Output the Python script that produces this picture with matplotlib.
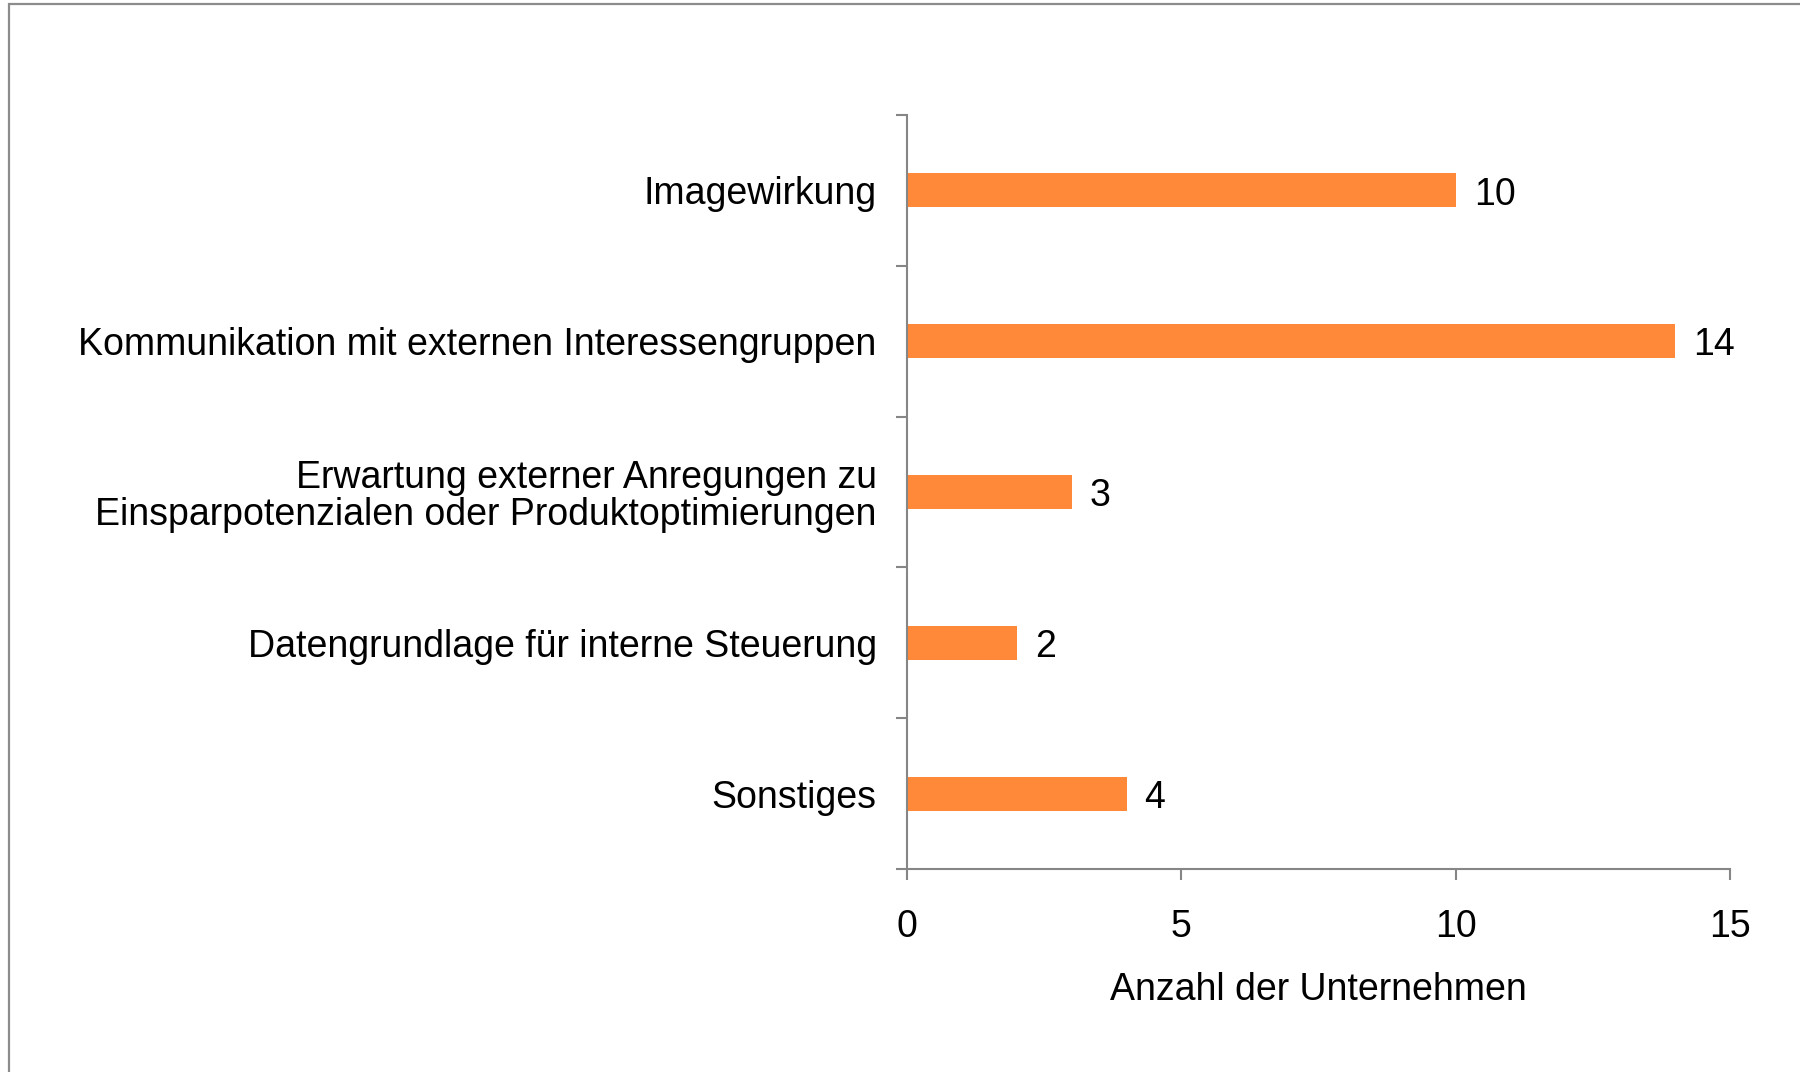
import numpy as np
import matplotlib.pyplot as plt
from matplotlib.patches import Rectangle

plt.rcParams['font.family'] = ['Liberation Sans', 'DejaVu Sans']

categories = ['Imagewirkung',
              'Kommunikation mit externen Interessengruppen',
              'Erwartung externer Anregungen zu\nEinsparpotenzialen oder Produktoptimierungen',
              'Datengrundlage für interne Steuerung',
              'Sonstiges']
values = [10, 14, 3, 2, 4]
x_ticks = [0, 5, 10, 15]
x_label = 'Anzahl der Unternehmen'

bar_color = '#FF8839'
axis_color = '#868686'
fs = 27

fig = plt.figure(figsize=(18, 10.72), dpi=100)
ax = fig.add_axes([0.504, 0.1894, 0.457, 0.7033])

# outer frame of the chart area (runs off the right and bottom edge)
fig.patches.append(Rectangle((9 / 1800, -0.05), 1.1, 1 - 4 / 1072 + 0.05,
                             transform=fig.transFigure, fill=False,
                             edgecolor='#8C8C8C', linewidth=1.6))

y = np.arange(len(categories))
ax.barh(y, values, height=0.225, color=bar_color, zorder=2)

# value labels right of each bar
for yi, v in zip(y, values):
    ax.annotate(str(v), (v, yi), xytext=(13, -3), textcoords='offset points',
                ha='left', va='center', fontsize=fs)

ax.set_ylim(len(categories) - 0.5, -0.5)
ax.set_xlim(0, 15)

# major ticks on the category boundaries, labels on minor ticks at centres
ax.set_yticks(np.arange(-0.5, len(categories), 1.0))
ax.set_yticklabels([])
ax.set_yticks(y, minor=True)
ax.set_yticklabels(categories, minor=True, fontsize=fs, linespacing=1.05)
ax.tick_params(axis='y', which='minor', length=0, pad=22)
ax.tick_params(axis='y', which='major', length=8, width=1.5,
               color=axis_color, direction='out')

ax.set_xticks(x_ticks)
ax.tick_params(axis='x', length=8, width=1.5, color=axis_color,
               direction='out', labelsize=fs, pad=21)
ax.set_xlabel(x_label, fontsize=fs, labelpad=19)

for side in ['top', 'right']:
    ax.spines[side].set_visible(False)
for side in ['left', 'bottom']:
    ax.spines[side].set_color(axis_color)
    ax.spines[side].set_linewidth(1.5)

fig.savefig('out.png', dpi=100)
